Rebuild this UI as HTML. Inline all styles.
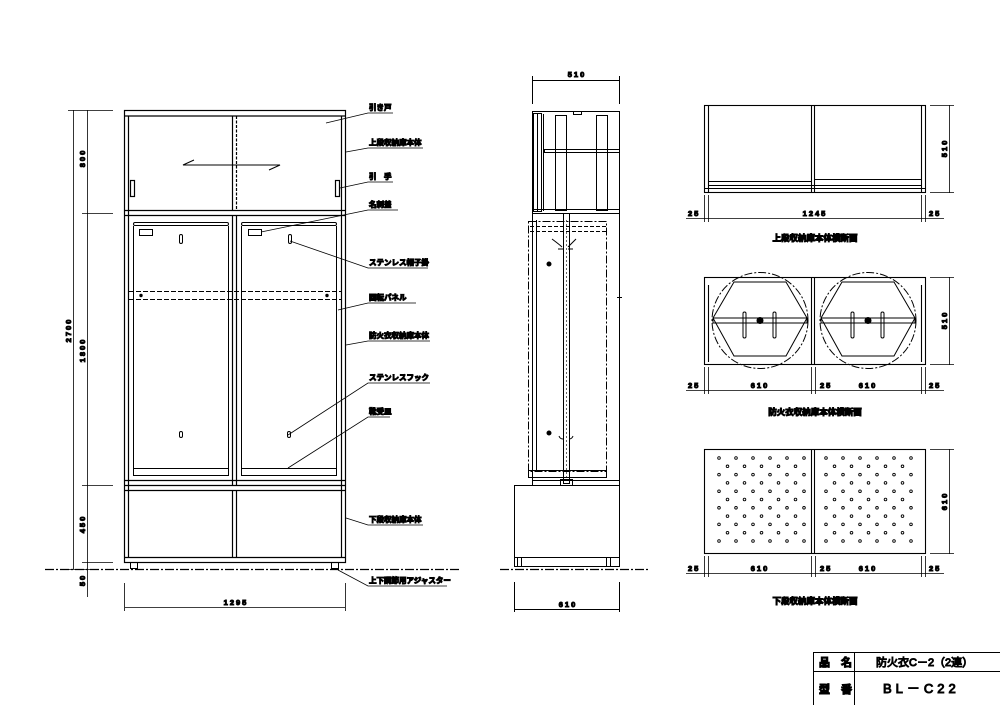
<!DOCTYPE html>
<html><head><meta charset="utf-8"><style>
html,body{margin:0;padding:0;background:#fff}
svg{display:block}
text{font-family:"Liberation Sans","Noto Sans CJK JP",sans-serif;font-weight:bold;fill:#000}
.t{font-size:7.5px}
.d{font-size:7.5px;letter-spacing:2px}
</style></head><body>
<svg width="1000" height="705" viewBox="0 0 1000 705" xmlns="http://www.w3.org/2000/svg" fill="none" stroke="#000" stroke-width="1">
<!-- ===== FRONT ELEVATION ===== -->
<g stroke-width="1.2">
<rect x="124.5" y="110.5" width="221" height="452"/>
<line x1="124" y1="116" x2="346" y2="116"/>
<line x1="128.5" y1="116" x2="128.5" y2="557"/>
<line x1="341.5" y1="116" x2="341.5" y2="557"/>
<line x1="124" y1="210.5" x2="346" y2="210.5"/>
<line x1="124" y1="215.5" x2="346" y2="215.5"/>
<line x1="232.5" y1="116" x2="232.5" y2="210" />
<line x1="236.5" y1="116" x2="236.5" y2="210" stroke-dasharray="3,1.5"/>
<line x1="232.5" y1="216" x2="232.5" y2="485"/>
<line x1="236.5" y1="216" x2="236.5" y2="485"/>
<line x1="124" y1="480.5" x2="346" y2="480.5"/>
<line x1="124" y1="485.5" x2="346" y2="485.5"/>
<line x1="124" y1="490.5" x2="346" y2="490.5"/>
<line x1="232.5" y1="490" x2="232.5" y2="557"/>
<line x1="236.5" y1="490" x2="236.5" y2="557"/>
<line x1="124" y1="557.5" x2="346" y2="557.5"/>
</g>
<!-- sliding door arrow -->
<polyline points="194,160 183,165 280,165 269,170" stroke-width="1"/>
<!-- handles -->
<rect x="130.5" y="180.5" width="4" height="16" stroke-width="1.2"/>
<rect x="335.5" y="180.5" width="4" height="16" stroke-width="1.2"/>
<!-- doors -->
<g stroke-width="1">
<rect x="133.5" y="222.5" width="95" height="3" rx="1.5"/>
<rect x="241.5" y="222.5" width="95" height="3" rx="1.5"/>
<line x1="133.5" y1="226" x2="133.5" y2="476"/>
<line x1="228.5" y1="226" x2="228.5" y2="476"/>
<line x1="241.5" y1="226" x2="241.5" y2="476"/>
<line x1="336.5" y1="226" x2="336.5" y2="476"/>
<line x1="133" y1="468.5" x2="229" y2="468.5"/>
<line x1="133" y1="475.5" x2="229" y2="475.5"/>
<line x1="241" y1="468.5" x2="337" y2="468.5"/>
<line x1="241" y1="475.5" x2="337" y2="475.5"/>
<rect x="139.5" y="229.5" width="13" height="6"/>
<rect x="248.5" y="229.5" width="13" height="6"/>
<rect x="179.5" y="234.5" width="3" height="9" rx="1.5"/>
<rect x="288.5" y="234.5" width="3" height="9" rx="1.5"/>
<rect x="179.5" y="431.5" width="3" height="6" rx="1.5"/>
<rect x="287.5" y="431.5" width="3" height="6" rx="1.5"/>
<line x1="129" y1="291.5" x2="341" y2="291.5" stroke-dasharray="5,2"/>
<line x1="129" y1="299.5" x2="341" y2="299.5" stroke-dasharray="5,2"/>
</g>
<circle cx="141" cy="295.5" r="1.2" fill="#000"/>
<circle cx="327" cy="295.5" r="1.2" fill="#000"/>
<!-- feet -->
<rect x="130.5" y="562.5" width="7" height="6"/>
<rect x="331.5" y="562.5" width="7" height="6"/>
<!-- ground line -->
<line x1="45" y1="569.5" x2="460" y2="569.5" stroke-dasharray="9,2,2,2" stroke-width="1.2"/>
<!-- left dims -->
<g stroke-width="0.8">
<line x1="73.5" y1="110" x2="73.5" y2="569"/>
<line x1="87.5" y1="110" x2="87.5" y2="597"/>
<line x1="68" y1="110.5" x2="113" y2="110.5"/>
<line x1="82" y1="213.5" x2="113" y2="213.5"/>
<line x1="82" y1="485.5" x2="113" y2="485.5"/>
<line x1="82" y1="562.5" x2="113" y2="562.5"/>
<line x1="68" y1="569.5" x2="92" y2="569.5"/>
<line x1="124.5" y1="583" x2="124.5" y2="611"/>
<line x1="345.5" y1="583" x2="345.5" y2="611"/>
<line x1="125" y1="607.5" x2="345" y2="607.5"/>
</g>
<text class="d" transform="translate(85,158) rotate(-90)" text-anchor="middle">800</text>
<text class="d" transform="translate(85,350) rotate(-90)" text-anchor="middle">1800</text>
<text class="d" transform="translate(71,330) rotate(-90)" text-anchor="middle">2700</text>
<text class="d" transform="translate(85,524) rotate(-90)" text-anchor="middle">450</text>
<text class="d" transform="translate(85,580) rotate(-90)" text-anchor="middle">50</text>
<text class="d" x="236" y="605" text-anchor="middle">1295</text>
<!-- leader labels -->
<g stroke-width="0.8">
<polyline points="326,123 368,113 393,113"/>
<polyline points="346,152 368,148 423,148"/>
<polyline points="340,188 368,182 393,182"/>
<polyline points="261,232 368,210 398,210"/>
<polyline points="290,241 368,268 428,268"/>
<polyline points="338,310 368,303 416,303"/>
<polyline points="346,345 368,341 430,341"/>
<polyline points="288,435 368,383 430,383"/>
<polyline points="288,468 368,417 390,417"/>
<polyline points="346,518 368,525 423,525"/>
<polyline points="338,570 368,586 447,586"/>
</g>
<g class="t">
<text class="t" x="369" y="110">引き戸</text>
<text class="t" x="369" y="145">上段収納庫本体</text>
<text class="t" x="369" y="179">引　手</text>
<text class="t" x="369" y="207">名刺差</text>
<text class="t" x="369" y="265">ステンレス帽子掛</text>
<text class="t" x="369" y="300">回転パネル</text>
<text class="t" x="369" y="338">防火衣収納庫本体</text>
<text class="t" x="369" y="380">ステンレスフック</text>
<text class="t" x="369" y="414">靴受皿</text>
<text class="t" x="369" y="522">下段収納庫本体</text>
<text class="t" x="369" y="583">上下調節用アジャスター</text>
</g>
<!-- ===== SIDE VIEW ===== -->
<g stroke-width="1">
<line x1="532.5" y1="76" x2="532.5" y2="104"/>
<line x1="619.5" y1="76" x2="619.5" y2="104"/>
<line x1="533" y1="80.5" x2="619" y2="80.5"/>
<rect x="532.5" y="111.5" width="87" height="102"/>
<rect x="533.5" y="113.5" width="8" height="98"/>
<line x1="537.5" y1="114" x2="537.5" y2="211"/>
<line x1="543.5" y1="114" x2="543.5" y2="211"/>
<rect x="555.5" y="115.5" width="11" height="95"/>
<rect x="596.5" y="115.5" width="11" height="95"/>
<rect x="544.5" y="149.5" width="75" height="3"/>
<line x1="532" y1="209.5" x2="620" y2="209.5"/>
<rect x="573.5" y="111.5" width="8" height="3"/>
<!-- middle -->
<line x1="532.5" y1="213" x2="532.5" y2="485"/>
<line x1="619.5" y1="213" x2="619.5" y2="485"/>
<line x1="536.5" y1="220" x2="536.5" y2="470"/>
<rect x="528.5" y="221.5" width="78" height="250" stroke-dasharray="8,2,2,2"/>
<line x1="530" y1="226.5" x2="606" y2="226.5" stroke-dasharray="4,2"/>
<line x1="530" y1="231.5" x2="606" y2="231.5" stroke-dasharray="4,2"/>
<rect x="528.5" y="470.5" width="78" height="7"/>
<line x1="532" y1="480.5" x2="620" y2="480.5"/>
<rect x="563.5" y="213.5" width="6" height="270"/>
<line x1="566.5" y1="220" x2="566.5" y2="478" stroke-dasharray="2,2" stroke-width="0.6"/>
<rect x="560.5" y="479.5" width="12" height="6"/>
<path d="M552 239 Q560 245 562 247 M576 239 Q570 245 568 247 M558 249 h5 M568 249 h5 M559 436 q1 3 4 3 M573 436 q-1 3 -4 3"/>
<line x1="617" y1="297.5" x2="622" y2="297.5"/>
<line x1="619.5" y1="295" x2="619.5" y2="300"/>
<!-- lower -->
<rect x="514.5" y="485.5" width="105" height="81"/>
<line x1="514" y1="557.5" x2="620" y2="557.5"/>
<rect x="517.5" y="557.5" width="4" height="9"/>
<rect x="606.5" y="557.5" width="4" height="9"/>
<line x1="514.5" y1="582" x2="514.5" y2="612"/>
<line x1="619.5" y1="582" x2="619.5" y2="612"/>
<line x1="515" y1="609.5" x2="619" y2="609.5"/>
</g>
<circle cx="549" cy="264" r="2" fill="#000"/>
<circle cx="549" cy="433" r="2" fill="#000"/>
<line x1="500" y1="569.5" x2="648" y2="569.5" stroke-dasharray="9,2,2,2" stroke-width="1.2"/>
<text class="d" x="577" y="77" text-anchor="middle">510</text>
<text class="d" x="568" y="607" text-anchor="middle">610</text>
<!-- ===== PLAN 1 ===== -->
<g stroke-width="1.1">
<rect x="704.5" y="105.5" width="221" height="87"/>
<line x1="708.5" y1="106" x2="708.5" y2="192"/>
<line x1="921.5" y1="106" x2="921.5" y2="192"/>
<line x1="811.5" y1="106" x2="811.5" y2="192"/>
<line x1="814.5" y1="106" x2="814.5" y2="192"/>
<line x1="708" y1="181.5" x2="811" y2="181.5"/>
<line x1="708" y1="185.5" x2="922" y2="185.5"/>
<line x1="815" y1="179.5" x2="921" y2="179.5"/>
<line x1="705" y1="188.5" x2="925" y2="188.5"/>
</g>
<g stroke-width="0.8">
<line x1="704.5" y1="195" x2="704.5" y2="222"/><line x1="708.5" y1="195" x2="708.5" y2="222"/>
<line x1="921.5" y1="195" x2="921.5" y2="222"/><line x1="925.5" y1="195" x2="925.5" y2="222"/>
<line x1="686" y1="218.5" x2="944" y2="218.5"/>
<line x1="930" y1="105.5" x2="954" y2="105.5"/><line x1="930" y1="192.5" x2="954" y2="192.5"/>
<line x1="949.5" y1="105" x2="949.5" y2="193"/>
</g>
<text class="d" x="688" y="216">25</text>
<text class="d" x="815" y="216" text-anchor="middle">1245</text>
<text class="d" x="929" y="216">25</text>
<text class="d" transform="translate(947,148) rotate(-90)" text-anchor="middle">510</text>
<text class="t" x="815" y="241" text-anchor="middle" style="font-size:8.5px">上段収納庫本体横断面</text>
<!-- ===== PLAN 2 ===== -->
<g stroke-width="1.1">
<rect x="704.5" y="277.5" width="221" height="87"/>
<line x1="811.5" y1="278" x2="811.5" y2="364"/>
<line x1="814.5" y1="278" x2="814.5" y2="364"/>
<line x1="708.5" y1="285" x2="708.5" y2="362"/>
<line x1="921.5" y1="285" x2="921.5" y2="362"/>
</g>
<g stroke-width="1">
<circle cx="760" cy="320.5" r="48" stroke-dasharray="8,2,2,2"/>
<circle cx="868" cy="320.5" r="48" stroke-dasharray="8,2,2,2"/>
<polygon points="734,282 786,282 807,318 786,356 734,356 713,318"/>
<polygon points="842,282 894,282 915,318 894,356 842,356 821,318"/>
<rect x="713" y="318" width="94" height="5"/>
<rect x="821" y="318" width="94" height="5"/>
<rect x="743" y="312" width="3" height="26" rx="1.5"/><rect x="773" y="312" width="3" height="26" rx="1.5"/>
<rect x="851" y="312" width="3" height="26" rx="1.5"/><rect x="881" y="312" width="3" height="26" rx="1.5"/>
</g>
<circle cx="760" cy="320.5" r="3" fill="#000"/><circle cx="868" cy="320.5" r="3" fill="#000"/>
<g stroke-width="0.8">
<line x1="704.5" y1="367" x2="704.5" y2="394"/><line x1="708.5" y1="367" x2="708.5" y2="394"/>
<line x1="811.5" y1="367" x2="811.5" y2="394"/><line x1="815.5" y1="367" x2="815.5" y2="394"/>
<line x1="921.5" y1="367" x2="921.5" y2="394"/><line x1="925.5" y1="367" x2="925.5" y2="394"/>
<line x1="686" y1="390.5" x2="944" y2="390.5"/>
<line x1="930" y1="277.5" x2="954" y2="277.5"/><line x1="930" y1="364.5" x2="954" y2="364.5"/>
<line x1="949.5" y1="277" x2="949.5" y2="365"/>
</g>
<text class="d" x="688" y="388">25</text>
<text class="d" x="760" y="388" text-anchor="middle">610</text>
<text class="d" x="820" y="388">25</text>
<text class="d" x="868" y="388" text-anchor="middle">610</text>
<text class="d" x="929" y="388">25</text>
<text class="d" transform="translate(947,320) rotate(-90)" text-anchor="middle">510</text>
<text class="t" x="815" y="415" text-anchor="middle" style="font-size:8.5px">防火衣収納庫本体横断面</text>
<!-- ===== PLAN 3 ===== -->
<g stroke-width="1.1">
<rect x="704.5" y="449.5" width="221" height="104"/>
<line x1="811.5" y1="450" x2="811.5" y2="553"/>
<line x1="814.5" y1="450" x2="814.5" y2="553"/>
</g>
<g id="dots" fill="none" stroke-width="0.9">
<g id="rowA"><circle cx="719" cy="458" r="1.3"/><circle cx="736" cy="458" r="1.3"/><circle cx="753" cy="458" r="1.3"/><circle cx="770" cy="458" r="1.3"/><circle cx="787" cy="458" r="1.3"/><circle cx="804" cy="458" r="1.3"/></g>
<g id="rowB"><circle cx="727.5" cy="466.3" r="1.3"/><circle cx="744.5" cy="466.3" r="1.3"/><circle cx="761.5" cy="466.3" r="1.3"/><circle cx="778.5" cy="466.3" r="1.3"/><circle cx="795.5" cy="466.3" r="1.3"/></g>
<use href="#rowA" y="16.6"/><use href="#rowB" y="16.6"/>
<use href="#rowA" y="33.2"/><use href="#rowB" y="33.2"/>
<use href="#rowA" y="49.8"/><use href="#rowB" y="49.8"/>
<use href="#rowA" y="66.4"/><use href="#rowB" y="66.4"/>
<use href="#rowA" y="83"/>
</g>
<use href="#dots" x="107"/>
<g stroke-width="0.8">
<line x1="704.5" y1="556" x2="704.5" y2="577"/><line x1="708.5" y1="556" x2="708.5" y2="577"/>
<line x1="811.5" y1="556" x2="811.5" y2="577"/><line x1="815.5" y1="556" x2="815.5" y2="577"/>
<line x1="921.5" y1="556" x2="921.5" y2="577"/><line x1="925.5" y1="556" x2="925.5" y2="577"/>
<line x1="686" y1="573.5" x2="944" y2="573.5"/>
<line x1="930" y1="449.5" x2="954" y2="449.5"/><line x1="930" y1="553.5" x2="954" y2="553.5"/>
<line x1="949.5" y1="449" x2="949.5" y2="554"/>
</g>
<text class="d" x="688" y="571">25</text>
<text class="d" x="760" y="571" text-anchor="middle">610</text>
<text class="d" x="820" y="571">25</text>
<text class="d" x="868" y="571" text-anchor="middle">610</text>
<text class="d" x="929" y="571">25</text>
<text class="d" transform="translate(947,501) rotate(-90)" text-anchor="middle">610</text>
<text class="t" x="815" y="604" text-anchor="middle" style="font-size:8.5px">下段収納庫本体横断面</text>
<!-- ===== TITLE BLOCK ===== -->
<g stroke-width="1">
<line x1="813.5" y1="652.5" x2="1000" y2="652.5"/>
<line x1="813.5" y1="671.5" x2="1000" y2="671.5"/>
<line x1="813.5" y1="652" x2="813.5" y2="705"/>
<line x1="854.5" y1="652" x2="854.5" y2="705"/>
</g>
<text x="819" y="666" style="font-size:11px">品　名</text>
<text x="876" y="666" style="font-size:11px;font-weight:normal">防火衣C－2（2連）</text>
<text x="819" y="693" style="font-size:11px">型　番</text>
<text x="883" y="693" style="font-size:13px;font-weight:normal;letter-spacing:4px">BL－C22</text>
</svg>
</body></html>
